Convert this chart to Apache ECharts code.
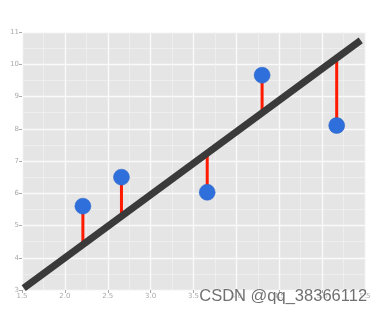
<!DOCTYPE html>
<html><head><meta charset="utf-8">
<script src="https://cdn.jsdelivr.net/npm/echarts@6/dist/echarts.min.js"></script>
<style>html,body{margin:0;padding:0;background:#fff}#c{width:385px;height:315px}</style>
</head><body><div id="c"></div>
<script>
var pointX = [2.21, 2.66, 3.66, 4.30, 5.17];
var pointY = [5.6, 6.5, 6.03, 9.66, 8.1];
var fitAtPointY = [4.41, 5.29, 7.24, 8.49, 10.19];
var fitLineX = [1.52, 5.45];
var fitLineY = [3.06, 10.74];
var xTickLabels = ['1.5','2.0','2.5','3.0','3.5','4.0','4.5','5.0','5.5'];
var yTickLabels = ['3','4','5','6','7','8','9','10','11'];

var chart = echarts.init(document.getElementById('c'), null, {renderer:'canvas'});
var residSeries = pointX.map(function(x, i){
  return {type:'line', data:[[x, pointY[i]],[x, fitAtPointY[i]]], symbol:'none',
    lineStyle:{color:'#ff1a00', width:3}, z:2, silent:true};
});
var axisCommon = {
  axisLine:{show:false},
  axisTick:{show:true, length:3, lineStyle:{color:'#aaa', width:1}},
  axisLabel:{color:'#aaa', fontSize:7, margin:3, fontFamily:'DejaVu Sans'},
  splitLine:{show:true, lineStyle:{color:'#fafafa', width:1.4}},
  minorTick:{show:false, splitNumber:2},
  minorSplitLine:{show:true, lineStyle:{color:'#f2f2f2', width:0.7}}
};
chart.setOption({
  animation:false,
  grid:{left:22, right:20, top:32, bottom:25, show:true, backgroundColor:'#e5e5e5', borderWidth:0},
  xAxis:Object.assign({type:'value', min:1.5, max:5.5, interval:0.5,
    axisLabel:Object.assign({}, axisCommon.axisLabel, {formatter:function(v){return xTickLabels[Math.round((v-1.5)/0.5)];}})
  }, {axisLine:axisCommon.axisLine, axisTick:axisCommon.axisTick, splitLine:axisCommon.splitLine, minorTick:axisCommon.minorTick, minorSplitLine:axisCommon.minorSplitLine}),
  yAxis:Object.assign({type:'value', min:3, max:11, interval:1,
    axisLabel:Object.assign({}, axisCommon.axisLabel, {formatter:function(v){return yTickLabels[Math.round(v-3)];}})
  }, {axisLine:axisCommon.axisLine, axisTick:axisCommon.axisTick, splitLine:axisCommon.splitLine, minorTick:axisCommon.minorTick, minorSplitLine:axisCommon.minorSplitLine}),
  series: residSeries.concat([
    {type:'line', data:fitLineX.map(function(x,i){return [x, fitLineY[i]];}), symbol:'none',
      lineStyle:{color:'#3a3a3a', width:7, cap:'butt'}, z:3, silent:true},
    {type:'scatter', data:pointX.map(function(x,i){return [x, pointY[i]];}), symbolSize:16,
      itemStyle:{color:'#2f6fdb', opacity:1, borderColor:'#2a62c4', borderWidth:0.5}, z:4}
  ]),
  graphic:[{type:'text', left:199, top:288, z:100,
    style:{text:'CSDN @qq_38366112', fill:'#707070', font:'16.5px "Liberation Sans", sans-serif', stroke:'#ffffff', lineWidth:0.5}}]
});
</script></body></html>
